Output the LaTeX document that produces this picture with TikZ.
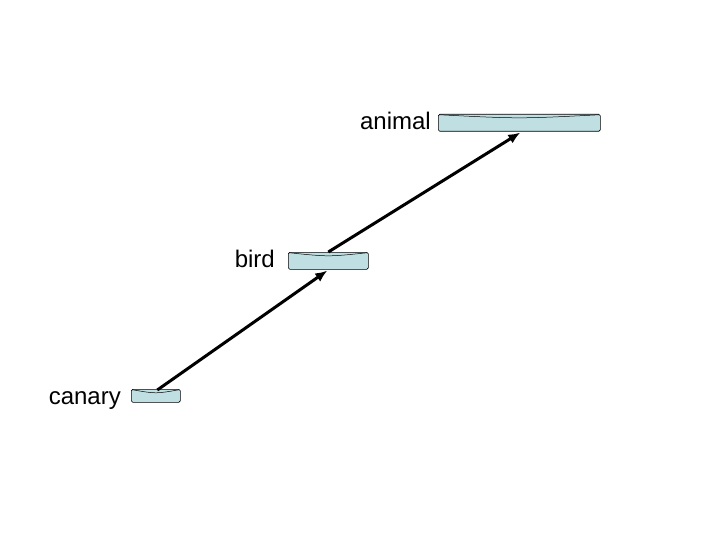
\documentclass[tikz,border=0pt]{standalone}
\usetikzlibrary{arrows.meta}
\usepackage{fontspec}
\setmainfont{Liberation Sans}
\begin{document}
\begin{tikzpicture}[x=1pt,y=-1pt,
  disk/.style={draw=black, line width=0.6pt, fill=diskfill, rounded corners=1.5pt,
    inner sep=0pt, anchor=north west,
    path picture={\draw[line width=0.5pt]
      ([xshift=1.5pt,yshift=-0.5pt]path picture bounding box.north west)
      .. controls ([yshift=-4.5pt]path picture bounding box.north) ..
      ([xshift=-1.5pt,yshift=-0.5pt]path picture bounding box.north east);}},
  lbl/.style={font=\fontsize{24}{28}\selectfont, anchor=base east, inner sep=0pt},
  arr/.style={-{Latex[length=12pt,width=10pt]}, line width=3pt}]
\definecolor{diskfill}{HTML}{BFDFE3}
\useasboundingbox (0,0) rectangle (720,540);
\node[disk, minimum width=162pt, minimum height=17pt] (animal) at (438,114) {};
\node[disk, minimum width=80pt, minimum height=17pt] (bird) at (288,252) {};
\node[disk, minimum width=49pt, minimum height=13pt] (canary) at (131,389) {};
\node[lbl] (animallbl) at (431,130) {animal};
\node[lbl] (birdlbl) at (275,267) {bird};
\node[lbl] (canarylbl) at (121,404) {canary};
\draw[arr] ([xshift=1.5pt,yshift=-1pt]canary.north) -- ([xshift=-1pt,yshift=-1pt]bird.south);
\draw[arr] (bird.north) -- ([xshift=1pt,yshift=-1pt]animal.south);
\end{tikzpicture}
\end{document}
